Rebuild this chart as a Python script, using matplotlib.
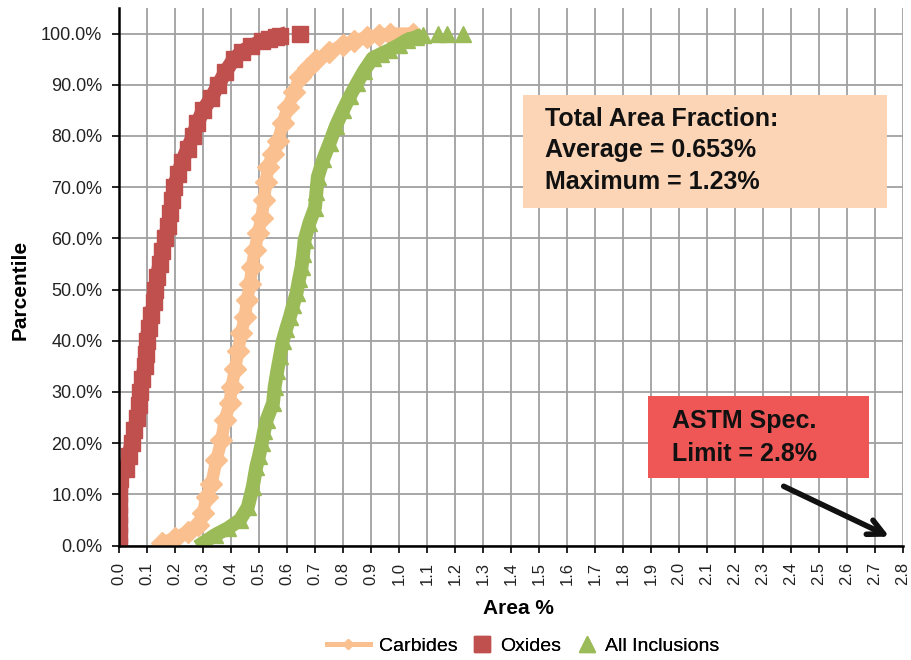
import numpy as np
import matplotlib
matplotlib.use("Agg")
from matplotlib import pyplot as plt
from matplotlib.lines import Line2D
from matplotlib.patches import Rectangle

plt.rcParams['font.family'] = ['Liberation Sans', 'DejaVu Sans']

# Oxides: area % vs percentile (%)
oxides_x = [0.0, 0.0, 0.0, 0.0, 0.0, 0.0, 0.0, 0.005, 0.025, 0.035, 0.045, 0.055, 0.065, 0.072, 0.076,
            0.083, 0.092, 0.097, 0.1, 0.106, 0.115, 0.125, 0.13, 0.137, 0.145, 0.155, 0.165, 0.175,
            0.183, 0.19, 0.196, 0.212, 0.225, 0.245, 0.265, 0.28, 0.3, 0.33, 0.355, 0.38, 0.41, 0.44,
            0.47, 0.51, 0.535, 0.56, 0.575, 0.645]
oxides_y = [0, 2, 4, 6, 8, 10, 12, 13, 15, 17.5, 20, 22.5, 25, 27.5, 30,
            32.5, 35, 37.5, 40, 42.5, 45, 47.5, 50, 52.5, 55, 57.5, 60, 62.5,
            65, 67.5, 70, 72.5, 75, 77.5, 80, 82.5, 85, 87.5, 90, 92.5, 95, 96.5,
            97.5, 98.5, 99, 99.3, 99.6, 100]

# Carbides
carbides_x = [0.152, 0.2, 0.247, 0.283, 0.3, 0.313, 0.33, 0.348, 0.366, 0.378, 0.396, 0.402, 0.415,
              0.425, 0.437, 0.449, 0.458, 0.467, 0.476, 0.485, 0.497, 0.509, 0.518, 0.525, 0.532,
              0.55, 0.568, 0.585, 0.603, 0.625, 0.645, 0.675, 0.705, 0.75, 0.8, 0.84, 0.884, 0.93,
              0.967, 1.05]
carbides_y = [0.5, 1.5, 2.7, 4, 6.3, 9.5, 12, 16.7, 20.6, 24.5, 27.8, 31, 34.5,
              38, 41.5, 44.6, 48, 51, 54.5, 57.7, 61, 64, 67.5, 71, 74,
              76.5, 79, 82.5, 85.6, 88.5, 91.5, 93.3, 94.8, 96.4, 97.8, 98.6, 99.3, 99.7,
              100, 100]

# All Inclusions
allinc_x = [0.3, 0.342, 0.39, 0.432, 0.46, 0.478, 0.49, 0.5, 0.51, 0.518, 0.527, 0.55, 0.556, 0.565,
            0.575, 0.585, 0.597, 0.61, 0.622, 0.634, 0.643, 0.652, 0.658, 0.663, 0.68, 0.7, 0.705,
            0.71, 0.73, 0.752, 0.775, 0.8, 0.825, 0.85, 0.875, 0.906, 0.935, 0.966, 1.0, 1.027,
            1.06, 1.085, 1.138, 1.17, 1.227]
allinc_y = [0.5, 2, 3.4, 5, 7.5, 11.5, 15.3, 17.5, 20, 22.3, 24.5, 27.8, 31, 34,
            37, 40, 42.3, 44.6, 47, 49.3, 52, 54.4, 57, 59.7, 63, 66, 69,
            72, 75.5, 78.6, 82, 85, 87.8, 90.3, 92.7, 95.2, 96, 96.8, 97.8, 98.7,
            99.3, 99.7, 100, 100, 100]

x_ticks = np.round(np.arange(0, 2.81, 0.1), 1)
y_ticks = np.arange(0, 101, 10)

carb_color = '#FAC090'
ox_color = '#C0504D'
all_color = '#9BBB59'

fig = plt.figure(figsize=(9.12, 6.6), dpi=100)
ax = fig.add_axes([119 / 912, 1 - 545.5 / 660, 784 / 912, 537.5 / 660])

ox_y = np.array(oxides_y) / 100
all_y = np.array(allinc_y) / 100

# the many overlapping points of the original read as a solid band
ax.plot(carbides_x, np.array(carbides_y) / 100, color=carb_color, lw=9, marker='D', ms=11,
        mec=carb_color, zorder=3, solid_capstyle='round')
ax.plot(oxides_x[:-1], ox_y[:-1], color=ox_color, lw=10.5, zorder=3)
ax.plot(oxides_x, ox_y, ls='none', marker='s', ms=11.5, color=ox_color, mec=ox_color, zorder=3)
ax.plot(allinc_x[:-4], all_y[:-4], color=all_color, lw=10, zorder=3)
ax.plot(allinc_x, all_y, ls='none', marker='^', ms=11.5, color=all_color, mec=all_color, zorder=3)

ax.set_xlim(0, 2.8)
ax.set_ylim(0, 1.05)
ax.set_xticks(x_ticks)
ax.set_xticklabels(['%.1f' % v for v in x_ticks], rotation=90, fontsize=12, color='#222222')
ax.set_yticks(y_ticks / 100)
ax.set_yticklabels(['%.1f%%' % v for v in y_ticks], fontsize=13, color='#222222')
ax.tick_params(direction='out', length=5, width=1.2, color='black', pad=7)

for xv in x_ticks:
    ax.axvline(xv, color='#A0A0A0', lw=1.3, zorder=1)
for yv in y_ticks:
    ax.axhline(yv / 100, color='#A0A0A0', lw=1.3, zorder=1)

ax.spines['top'].set_visible(False)
ax.spines['right'].set_visible(False)
ax.spines['left'].set_linewidth(1.8)
ax.spines['bottom'].set_linewidth(1.8)
ax.spines['left'].set_zorder(4)
ax.spines['bottom'].set_zorder(4)

fig.text(518 / 912, 1 - 608 / 660, 'Area %', ha='center', va='center', fontsize=15, weight='bold')
fig.text(20 / 912, 1 - 290 / 660, 'Parcentile', ha='center', va='center', rotation=90,
         fontsize=15, weight='bold')

# annotation boxes
ax.add_patch(Rectangle((0.515, 0.628), 0.465, 0.21, transform=ax.transAxes,
                       facecolor='#FBD5B5', edgecolor='none', zorder=5))
box_lines = ['Total Area Fraction:', 'Average = 0.653%', 'Maximum = 1.23%']
for line, base in zip(box_lines, [125.7, 157.3, 189]):
    fig.text(545 / 912, 1 - base / 660, line, ha='left', va='baseline', fontsize=18,
             weight='bold', color='#111111', zorder=6)

ax.add_patch(Rectangle(((648 - 119) / 784, (545.5 - 478) / 537.5), 221 / 784, 82 / 537.5,
                       transform=ax.transAxes, facecolor='#EF5656', edgecolor='none', zorder=5))
for line, base in zip(['ASTM Spec.', 'Limit = 2.8%'], [428, 461]):
    fig.text(672 / 912, 1 - base / 660, line, ha='left', va='baseline', fontsize=18,
             weight='bold', color='#111111', zorder=6)

ax.annotate('', xy=(2.76, 0.015), xytext=(2.365, 0.118),
            arrowprops=dict(arrowstyle='->', lw=4, color='#111111', mutation_scale=28), zorder=6)

# legend: one entry each so the handle widths can differ
entries = [
    (Line2D([], [], color=carb_color, lw=3.5, marker='D', ms=5, mec=carb_color), 'Carbides', 327, 2.2),
    (Line2D([], [], ls='none', marker='s', ms=12, color=ox_color), 'Oxides', 473, 0.9),
    (Line2D([], [], ls='none', marker='^', ms=12, color=all_color), 'All Inclusions', 578, 0.9),
]
for handle, label, left, hl in entries:
    leg = fig.legend([handle], [label], loc='center left', bbox_to_anchor=(left / 912, 1 - 646 / 660),
                     frameon=False, fontsize=14, handlelength=hl, handletextpad=0.5,
                     borderpad=0, borderaxespad=0)
    fig.add_artist(leg)

fig.savefig('out.png', dpi=100)
